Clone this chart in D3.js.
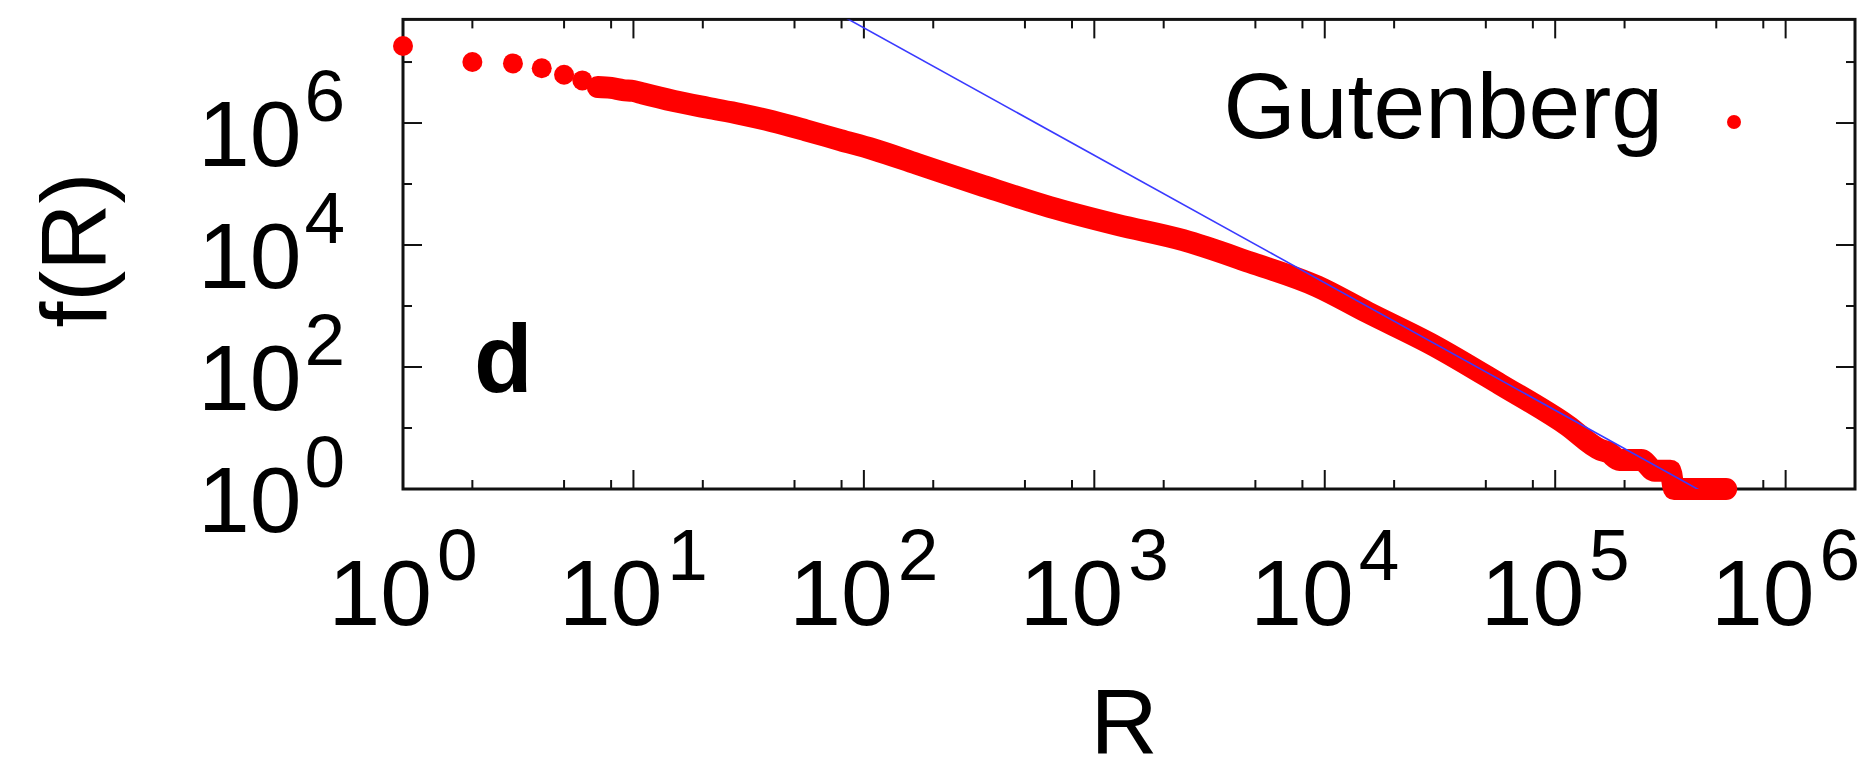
<!DOCTYPE html>
<html>
<head>
<meta charset="utf-8">
<script src="https://cdn.jsdelivr.net/npm/d3@7"></script>
<style>
  html, body { margin: 0; padding: 0; background: #fff; }
  svg { display: block; }
  text { font-family: "Liberation Sans", Arial, Helvetica, sans-serif; fill: #000; }
</style>
</head>
<body>
<script>
// ---------- data ----------
const rankSparse = [1, 2, 3, 4, 5, 6];
const freqSparse = [1.83e7, 1.0e7, 9.5e6, 7.9e6, 6.2e6, 5.0e6];

const rankDense = [7, 8, 9, 10, 11, 15, 21, 29, 40, 56, 79, 110, 170, 330, 640, 1260, 2430, 4750,
  9270, 15300, 29500, 57700, 113000, 157000, 170000, 190000, 236000, 270000, 316000, 328000, 552000];
const freqDense = [3.89e6, 3.76e6, 3.47e6, 3.35e6, 3.05e6, 2.3e6, 1.78e6, 1.41e6, 1.07e6, 7.6e5,
  5.25e5, 3.7e5, 2.14e5, 9.3e4, 4.2e4, 2.14e4, 1.2e4, 5.2e3, 2.1e3, 790, 229, 52, 11, 4.4, 4, 3, 3, 2, 2, 1, 1];

// power-law fit  f(R) = C * R^(-alpha)
const fitPrefactor = 5.5e11;
const fitExponent = 2.09;

// ticks
const xMajorTicks = [1, 10, 100, 1e3, 1e4, 1e5, 1e6];
const xTickExponents = ["0", "1", "2", "3", "4", "5", "6"];
const xMinorTicks = [2, 5, 8, 20, 50, 80, 200, 500, 800, 2e3, 5e3, 8e3, 2e4, 5e4, 8e4, 2e5, 5e5, 8e5];
const yMajorTicks = [1, 1e2, 1e4, 1e6];
const yTickExponents = ["0", "2", "4", "6"];
const yMinorTicks = [10, 1e3, 1e5, 1e7];

const legendLabel = "Gutenberg";
const xTitle = "R";
const yTitle = "f(R)";
const panelLabel = "d";

// ---------- layout ----------
const W = 1869, H = 761;
const L = 403, R = 1855, T = 19.4, B = 489;

const svg = d3.select("body").append("svg").attr("width", W).attr("height", H);
svg.append("rect").attr("width", W).attr("height", H).attr("fill", "#fff");

const x = d3.scaleLog().domain([1, 2e6]).range([L, R]);
const y = d3.scaleLog().domain([1, 5e7]).range([B, T]);

svg.append("defs").append("clipPath").attr("id", "plotclip")
  .append("rect").attr("x", L).attr("y", T).attr("width", R - L).attr("height", B - T);

// ---------- ticks (all four sides) ----------
const tickG = svg.append("g").attr("stroke", "#111").attr("stroke-width", 2);
const majLen = 19, minLen = 9;
function xTicks(vals, len) {
  tickG.selectAll(null).data(vals).enter().append("line")
    .attr("x1", d => x(d)).attr("x2", d => x(d)).attr("y1", B).attr("y2", B - len);
  tickG.selectAll(null).data(vals).enter().append("line")
    .attr("x1", d => x(d)).attr("x2", d => x(d)).attr("y1", T).attr("y2", T + len);
}
function yTicks(vals, len) {
  tickG.selectAll(null).data(vals).enter().append("line")
    .attr("y1", d => y(d)).attr("y2", d => y(d)).attr("x1", L).attr("x2", L + len);
  tickG.selectAll(null).data(vals).enter().append("line")
    .attr("y1", d => y(d)).attr("y2", d => y(d)).attr("x1", R).attr("x2", R - len);
}
xTicks(xMajorTicks, majLen);
xTicks(xMinorTicks, minLen);
yTicks(yMajorTicks, majLen);
yTicks(yMinorTicks, minLen);

// frame
svg.append("rect").attr("x", L).attr("y", T).attr("width", R - L).attr("height", B - T)
  .attr("fill", "none").attr("stroke", "#111").attr("stroke-width", 3);

// ---------- tick labels ----------
const FS = 93, SFS = 73, SUP = 45;
xMajorTicks.forEach((v, i) => {
  const t = svg.append("text").attr("x", x(v)).attr("y", 625)
    .attr("text-anchor", "middle").attr("font-size", FS);
  t.append("tspan").text("10");
  t.append("tspan").attr("dx", 5).attr("dy", -SUP).attr("font-size", SFS).text(xTickExponents[i]);
});
yMajorTicks.forEach((v, i) => {
  const t = svg.append("text").attr("x", 345).attr("y", y(v) + 43)
    .attr("text-anchor", "end").attr("font-size", FS);
  t.append("tspan").text("10");
  t.append("tspan").attr("dx", 3).attr("dy", -SUP).attr("font-size", SFS).text(yTickExponents[i]);
});

// axis titles
svg.append("text").attr("transform", `translate(106,250) rotate(-90)`)
  .attr("text-anchor", "middle").attr("font-size", FS).text(yTitle);
svg.append("text").attr("x", 1124).attr("y", 754)
  .attr("text-anchor", "middle").attr("font-size", FS).text(xTitle);

// panel label
svg.append("text").attr("x", 474).attr("y", 392).attr("font-size", 96)
  .attr("font-weight", "bold").text(panelLabel);

// ---------- data ----------
const RED = "#ff0000";
const sparse = rankSparse.map((r, i) => ({ r, f: freqSparse[i] }));
const dense = rankDense.map((r, i) => ({ r, f: freqDense[i] }));

svg.append("path").datum(dense)
  .attr("fill", "none").attr("stroke", RED).attr("stroke-width", 22)
  .attr("stroke-linecap", "round").attr("stroke-linejoin", "round")
  .attr("d", d3.line().x(d => x(d.r)).y(d => y(d.f)).curve(d3.curveMonotoneX));

svg.append("g").selectAll("circle").data(sparse.concat(dense)).enter().append("circle")
  .attr("cx", d => x(d.r)).attr("cy", d => y(d.f)).attr("r", 10).attr("fill", RED);

// ---------- fit line ----------
const fitEnds = x.domain().map(r => ({ r, f: fitPrefactor * Math.pow(r, -fitExponent) }));
svg.append("path").datum(fitEnds).attr("clip-path", "url(#plotclip)")
  .attr("fill", "none").attr("stroke", "#3a3aff").attr("stroke-width", 1.6)
  .attr("d", d3.line().x(d => x(d.r)).y(d => y(d.f)));

// ---------- legend ----------
svg.append("text").attr("x", 1663).attr("y", 138).attr("text-anchor", "end")
  .attr("font-size", FS).text(legendLabel);
svg.append("circle").attr("cx", 1734).attr("cy", 122).attr("r", 7).attr("fill", RED);
</script>
</body>
</html>
